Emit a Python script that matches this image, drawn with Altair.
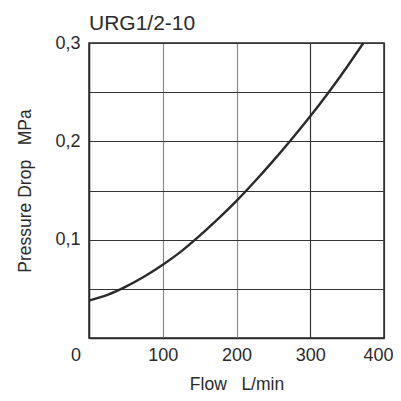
import altair as alt
import pandas as pd

flow = [0, 25, 50, 75, 100, 125, 144, 175, 200, 225, 250, 275, 300, 325, 350, 372]
pressure = [0.0380, 0.0438, 0.0522, 0.0625, 0.0745, 0.0881, 0.1000, 0.1211, 0.1394,
            0.1594, 0.1804, 0.2024, 0.2254, 0.2499, 0.2759, 0.3000]

x_ticks = [0, 100, 200, 300, 400]
y_ticks = [0, 0.05, 0.1, 0.15, 0.2, 0.25, 0.3]

title_text = "URG1/2-10"
x_title = "Flow\u00a0\u00a0\u00a0L/min"
y_title = "Pressure Drop\u00a0\u00a0\u00a0MPa"

FONT = "Liberation Sans, Arial, Helvetica"
INK = "#2a2a2a"

df = pd.DataFrame({"flow": flow, "pressure": pressure})
origin = pd.DataFrame({"flow": [0], "pressure": [0], "label": ["0"]})
title_df = pd.DataFrame({"flow": [0], "pressure": [0.3], "label": [title_text]})

xscale = alt.Scale(domain=[0, 400], nice=False)
yscale = alt.Scale(domain=[0, 0.3], nice=False)

line = alt.Chart(df).mark_line(color=INK, strokeWidth=2.4, interpolate="monotone").encode(
    x=alt.X("flow:Q", scale=xscale,
            axis=alt.Axis(values=x_ticks, title=x_title, ticks=False,
                          labelFlush=True, labelFlushOffset=9,
                          labelExpr="datum.value == 0 ? '' : datum.label",
                          labelPadding=8, titlePadding=11,
                          gridColor={"condition": {"test": "datum.value >= 300", "value": "#333333"},
                                     "value": "#8a8a8a"})),
    y=alt.Y("pressure:Q", scale=yscale,
            axis=alt.Axis(values=y_ticks, title=y_title, ticks=False, labelFlush=False,
                          labelExpr="abs(datum.value-0.1)<0.001 ? '0,1' : abs(datum.value-0.2)<0.001 ? '0,2' : abs(datum.value-0.3)<0.001 ? '0,3' : ''",
                          labelPadding=9, titlePadding=20, gridColor="#333333")),
)

zero = alt.Chart(origin).mark_text(font=FONT, fontSize=18, color=INK, dx=-13, dy=18).encode(
    x=alt.X("flow:Q", scale=xscale),
    y=alt.Y("pressure:Q", scale=yscale),
    text="label:N",
)

title = alt.Chart(title_df).mark_text(font=FONT, fontSize=21, color=INK, align="left",
                                      baseline="alphabetic", dx=0, dy=-13).encode(
    x=alt.X("flow:Q", scale=xscale),
    y=alt.Y("pressure:Q", scale=yscale),
    text="label:N",
)

chart = alt.layer(line, zero, title).properties(
    width=295, height=295,
    autosize=alt.AutoSizeParams(type="none"),
    padding={"left": 81, "top": 35, "right": 9, "bottom": 55},
).configure_view(stroke=INK, strokeWidth=1.5).configure_axis(
    labelFont=FONT, titleFont=FONT, labelFontSize=18, titleFontSize=17.5,
    labelColor=INK, titleColor=INK, titleFontWeight="normal",
    domainColor=INK, domainWidth=1.5, gridWidth=1.2, gridOpacity=1,
)

chart.save("out.html", embed_options={"renderer": "svg", "actions": False})
